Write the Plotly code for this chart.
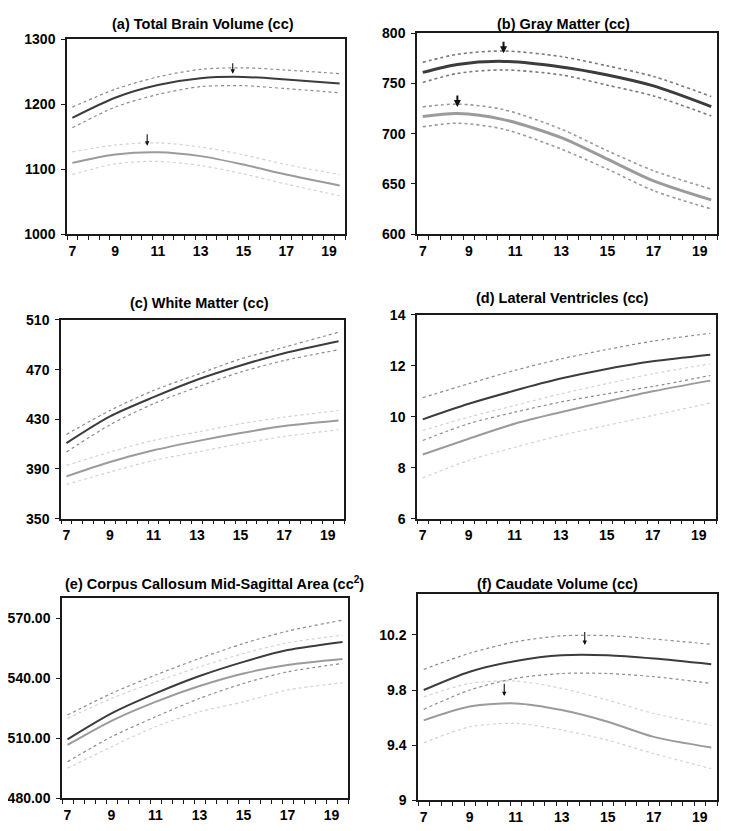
import plotly.graph_objects as go

# measured mapping from figure pixels to the photographed window
OX = 8.0          # horizontal page offset
OY, SY = 14.7, 0.982  # vertical offset and scale
W, H = 721, 831

# ---------------- data ----------------
ages = [7, 9, 11, 13, 15, 17, 19.5]
ages_b = [7, 8.5, 10.5, 13, 15, 17, 19.5]

a_dark = [1179, 1210, 1229.5, 1240, 1242, 1238, 1232]
a_dark_up = [1195.5, 1223, 1242, 1253.7, 1256, 1252.6, 1247]
a_dark_lo = [1163.6, 1195.5, 1215, 1227, 1228.5, 1224, 1217.6]
a_light = [1109.6, 1122.4, 1126, 1120, 1107, 1091.6, 1074.6]
a_light_up = [1126.6, 1137, 1140.5, 1134, 1122, 1107, 1091.6]
a_light_lo = [1091.6, 1108, 1112, 1105.5, 1092.6, 1077, 1059]

b_dark = [761, 769, 772, 766.5, 758.5, 747.6, 727]
b_dark_up = [771, 779, 782.4, 776.8, 767.5, 757, 737]
b_dark_lo = [751, 760, 763.5, 758.5, 748.3, 737.6, 717.7]
b_light = [717, 720, 714, 696, 674.6, 653, 634]
b_light_up = [726.7, 729.4, 724, 704.5, 683, 663, 644.8]
b_light_lo = [706.8, 710.4, 704.5, 684.6, 664.7, 643.2, 625]

c_dark = [410.8, 432.3, 447.8, 461.8, 473.3, 483.2, 492.8]
c_dark_up = [417.8, 437.1, 453.2, 466, 478.6, 488, 500.1]
c_dark_lo = [403.6, 425.6, 442.5, 455.9, 468, 477.3, 486]
c_light = [384, 395.6, 405, 412.4, 418.9, 424.5, 429]
c_light_up = [392.9, 403.6, 413, 419.7, 426.4, 431.7, 437.1]
c_light_lo = [377.6, 387.5, 396.9, 403.6, 410.3, 416.2, 421.6]

d_dark = [9.9, 10.51, 11.03, 11.5, 11.88, 12.18, 12.44]
d_dark_up = [10.75, 11.3, 11.82, 12.27, 12.64, 12.97, 13.28]
d_dark_lo = [9.07, 9.73, 10.18, 10.58, 10.9, 11.19, 11.62]
d_light = [8.52, 9.14, 9.73, 10.18, 10.6, 11.0, 11.42]
d_light_up = [9.46, 9.99, 10.44, 10.9, 11.3, 11.69, 12.08]
d_light_lo = [7.6, 8.29, 8.8, 9.27, 9.66, 10.05, 10.54]

e_dark = [509.5, 522.5, 532.5, 541.2, 548.3, 554.2, 558.3]
e_dark_up = [521.7, 532.5, 541.7, 550, 557.5, 563.7, 569.2]
e_dark_lo = [498.3, 510.8, 520.8, 530, 537.5, 543.3, 547.5]
e_light = [506.7, 518.8, 528.3, 536.2, 542.5, 546.7, 549.7]
e_light_up = [520, 530, 538.3, 545.8, 552.5, 557.8, 561.7]
e_light_lo = [495, 505.8, 515.8, 523.3, 528.3, 534.2, 537.8]

f_dark = [9.8, 9.933, 10.011, 10.052, 10.052, 10.028, 9.987]
f_dark_up = [9.95, 10.067, 10.15, 10.193, 10.195, 10.17, 10.132]
f_dark_lo = [9.66, 9.8, 9.885, 9.92, 9.92, 9.897, 9.848]
f_light = [9.58, 9.68, 9.703, 9.655, 9.57, 9.46, 9.383]
f_light_up = [9.75, 9.848, 9.865, 9.812, 9.727, 9.63, 9.545]
f_light_lo = [9.417, 9.533, 9.558, 9.51, 9.436, 9.339, 9.23]

titles = [
    "(a) Total Brain Volume (cc)",
    "(b) Gray Matter (cc)",
    "(c) White Matter (cc)",
    "(d) Lateral Ventricles (cc)",
    "(e) Corpus Callosum Mid-Sagittal Area (cc<sup>2</sup>)",
    "(f) Caudate Volume (cc)",
]
x_tick_vals = [7, 9, 11, 13, 15, 17, 19]
y_ticks = [
    [1000, 1100, 1200, 1300],
    [600, 650, 700, 750, 800],
    [350, 390, 430, 470, 510],
    [6, 8, 10, 12, 14],
    [480, 510, 540, 570],
    [9, 9.4, 9.8, 10.2],
]
y_tick_text = [
    ["1000", "1100", "1200", "1300"],
    ["600", "650", "700", "750", "800"],
    ["350", "390", "430", "470", "510"],
    ["6", "8", "10", "12", "14"],
    ["480.00", "510.00", "540.00", "570.00"],
    ["9", "9.4", "9.8", "10.2"],
]
y_ranges = [[1000, 1300], [600, 800], [350, 510], [6, 14], [480, 580.5], [9, 10.5]]

arrows = {
    0: [(14.5, 1265.5, 1247), (10.5, 1156, 1136)],
    1: [(10.5, 793, 780), (8.5, 739.5, 726.5)],
    5: [(14, 10.232, 10.127), (10.5, 9.856, 9.756)],
}

panels = [
    (ages, a_dark, a_dark_up, a_dark_lo, a_light, a_light_up, a_light_lo),
    (ages_b, b_dark, b_dark_up, b_dark_lo, b_light, b_light_up, b_light_lo),
    (ages, c_dark, c_dark_up, c_dark_lo, c_light, c_light_up, c_light_lo),
    (ages, d_dark, d_dark_up, d_dark_lo, d_light, d_light_up, d_light_lo),
    (ages, e_dark, e_dark_up, e_dark_lo, e_light, e_light_up, e_light_lo),
    (ages, f_dark, f_dark_up, f_dark_lo, f_light, f_light_up, f_light_lo),
]

# panel boxes in window pixels: x0, x1, ytop, ybottom
boxes = [
    (67, 345, 38, 233),
    (417, 717, 32, 233),
    (61, 344, 319, 518),
    (417, 716, 314, 518),
    (62, 348, 597, 798),
    (418, 717, 593, 800),
]
title_pos = [(203, 18), (563, 15), (199, 302), (562, 297), (214, 582), (557, 583)]

DARK = "#3c3c3c"
LIGHT = "#9b9b9b"
DARK_CI = "#8c8c8c"
LIGHT_CI = "#d2d2d2"
FONT = "Liberation Sans, Arial, sans-serif"


def px_x(x):
    return (x - OX) / W


def fig_y(y):
    return (y - OY) / SY


def px_y(y):
    return 1 - fig_y(y) / H


fig = go.Figure()
layout = dict(
    width=W, height=H, margin=dict(l=0, r=0, t=0, b=0),
    paper_bgcolor="white", plot_bgcolor="white", showlegend=False,
    font=dict(family=FONT, color="black"),
)
annotations = []

for i, (xs, dk, dku, dkl, lt, ltu, ltl) in enumerate(panels):
    n = i + 1
    xa = "x" if n == 1 else f"x{n}"
    ya = "y" if n == 1 else f"y{n}"
    thick = 3.0 if i == 1 else 2.0
    ci_w = 1.6 if i == 1 else 1.2
    dark_ci = "#7a7a7a" if i == 1 else DARK_CI
    light_ci = "#9a9a9a" if i == 1 else LIGHT_CI
    specs = [
        (ltu, light_ci, ci_w, "dot"),
        (ltl, light_ci, ci_w, "dot"),
        (dku, dark_ci, ci_w, "dot"),
        (dkl, dark_ci, ci_w, "dot"),
        (lt, LIGHT, thick, "solid"),
        (dk, DARK, thick, "solid"),
    ]
    for ys, col, wd, dash in specs:
        fig.add_trace(go.Scatter(
            x=xs, y=ys, mode="lines", xaxis=xa, yaxis=ya,
            line=dict(color=col, width=wd, dash=dash, shape="spline", smoothing=0.8),
            hoverinfo="skip",
        ))
    x0, x1, yt, yb = boxes[i]
    layout[f"xaxis{'' if n == 1 else n}"] = dict(
        domain=[px_x(x0), px_x(x1)], anchor=ya, range=[6.75, 19.75],
        showline=True, mirror=True, linecolor="#1a1a1a", linewidth=1.5,
        showgrid=False, zeroline=False,
        tickmode="array", tickvals=x_tick_vals, ticktext=[str(v) for v in x_tick_vals],
        ticks="", ticklabelstandoff=3,
        tickfont=dict(family=FONT, size=14, color="black", weight="bold"),
        minor=dict(tickmode="linear", tick0=6.75, dtick=0.5, ticks="outside",
                   ticklen=4, tickwidth=1.2, tickcolor="#1a1a1a", showgrid=False),
        fixedrange=True,
    )
    layout[f"yaxis{'' if n == 1 else n}"] = dict(
        domain=[px_y(yb), px_y(yt)], anchor=xa, range=y_ranges[i],
        showline=True, mirror=True, linecolor="#1a1a1a", linewidth=1.5,
        showgrid=False, zeroline=False,
        tickmode="array", tickvals=y_ticks[i], ticktext=y_tick_text[i],
        ticks="outside", ticklen=4, tickwidth=1.2, tickcolor="#1a1a1a",
        ticklabelstandoff=3,
        tickfont=dict(family=FONT, size=14, color="black", weight="bold"),
        fixedrange=True,
    )
    tx, ty = title_pos[i]
    ty_fig = max(fig_y(ty), 8.5)
    annotations.append(dict(
        text=titles[i], x=px_x(tx), y=1 - ty_fig / H, xref="paper", yref="paper",
        xanchor="center", yanchor="middle", showarrow=False,
        font=dict(family=FONT, size=14.5, color="black", weight="bold"),
    ))
    for (ax_x, y0, y1) in arrows.get(i, []):
        annotations.append(dict(
            x=ax_x, y=y1, ax=ax_x, ay=y0, xref=xa, yref=ya, axref=xa, ayref=ya,
            showarrow=True, arrowhead=2, arrowsize=0.7 if i == 1 else 0.8,
            arrowwidth=2.0 if i == 1 else 1.1, arrowcolor="#111", text="",
        ))

layout["annotations"] = annotations
fig.update_layout(**layout)
fig.write_html("out.html")
